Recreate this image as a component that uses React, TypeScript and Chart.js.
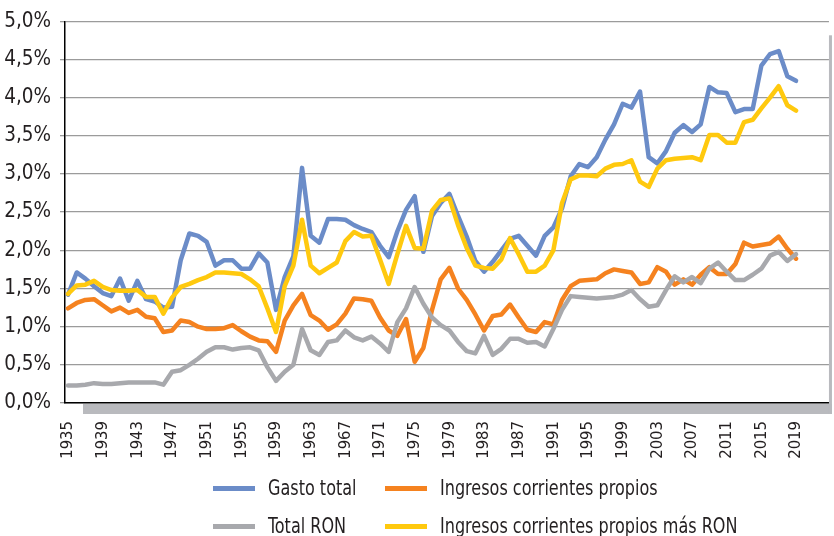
import React, { useEffect, useRef } from 'react';
import { Chart, registerables } from 'chart.js';

Chart.register(...registerables);

const years = [
  1935, 1936, 1937, 1938, 1939, 1940, 1941, 1942, 1943, 1944, 1945, 1946, 1947, 1948, 1949,
  1950, 1951, 1952, 1953, 1954, 1955, 1956, 1957, 1958, 1959, 1960, 1961, 1962, 1963, 1964,
  1965, 1966, 1967, 1968, 1969, 1970, 1971, 1972, 1973, 1974, 1975, 1976, 1977, 1978, 1979,
  1980, 1981, 1982, 1983, 1984, 1985, 1986, 1987, 1988, 1989, 1990, 1991, 1992, 1993, 1994,
  1995, 1996, 1997, 1998, 1999, 2000, 2001, 2002, 2003, 2004, 2005, 2006, 2007, 2008, 2009,
  2010, 2011, 2012, 2013, 2014, 2015, 2016, 2017, 2018, 2019,
];

const xTickLabels = [
  '1935', '1939', '1943', '1947', '1951', '1955', '1959', '1963', '1967', '1971', '1975',
  '1979', '1983', '1987', '1991', '1995', '1999', '2003', '2007', '2011', '2015', '2019',
];

const gastoTotal = [
  1.42, 1.71, 1.63, 1.53, 1.44, 1.40, 1.63, 1.34, 1.60, 1.36, 1.33, 1.25, 1.26, 1.87, 2.22,
  2.19, 2.11, 1.80, 1.87, 1.87, 1.76, 1.76, 1.96, 1.84, 1.22, 1.65, 1.92, 3.08, 2.19, 2.10,
  2.41, 2.41, 2.40, 2.33, 2.28, 2.24, 2.06, 1.91, 2.25, 2.53, 2.71, 1.98, 2.45, 2.62, 2.74,
  2.45, 2.18, 1.86, 1.72, 1.85, 2.00, 2.15, 2.19, 2.06, 1.93, 2.19, 2.30, 2.55, 2.97, 3.13,
  3.09, 3.22, 3.45, 3.65, 3.92, 3.87, 4.08, 3.22, 3.14, 3.30, 3.54, 3.64, 3.55, 3.65, 4.14,
  4.07, 4.06, 3.81, 3.85, 3.85, 4.42, 4.57, 4.61, 4.28, 4.22,
];

const ingresosPropios = [
  1.24, 1.31, 1.35, 1.36, 1.28, 1.20, 1.25, 1.18, 1.22, 1.13, 1.11, 0.93, 0.95, 1.08, 1.06,
  1.00, 0.97, 0.97, 0.98, 1.02, 0.94, 0.87, 0.82, 0.81, 0.67, 1.08, 1.28, 1.43, 1.15, 1.08,
  0.96, 1.03, 1.17, 1.37, 1.36, 1.34, 1.12, 0.95, 0.88, 1.10, 0.54, 0.72, 1.22, 1.62, 1.77,
  1.50, 1.35, 1.16, 0.95, 1.14, 1.16, 1.29, 1.12, 0.96, 0.93, 1.06, 1.03, 1.35, 1.53, 1.60,
  1.61, 1.62, 1.70, 1.75, 1.73, 1.71, 1.56, 1.58, 1.78, 1.72, 1.55, 1.62, 1.55, 1.68, 1.78,
  1.69, 1.69, 1.82, 2.10, 2.05, 2.07, 2.09, 2.18, 2.02, 1.89,
];

const totalRON = [
  0.23, 0.23, 0.24, 0.26, 0.25, 0.25, 0.26, 0.27, 0.27, 0.27, 0.27, 0.24, 0.41, 0.43, 0.50,
  0.58, 0.67, 0.73, 0.73, 0.70, 0.72, 0.73, 0.69, 0.47, 0.29, 0.41, 0.50, 0.97, 0.69, 0.63,
  0.80, 0.82, 0.95, 0.86, 0.82, 0.87, 0.78, 0.67, 1.06, 1.24, 1.52, 1.30, 1.12, 1.02, 0.95,
  0.80, 0.68, 0.65, 0.88, 0.63, 0.71, 0.84, 0.84, 0.79, 0.80, 0.74, 0.97, 1.22, 1.40, 1.39,
  1.38, 1.37, 1.38, 1.39, 1.42, 1.48, 1.36, 1.26, 1.28, 1.48, 1.66, 1.58, 1.65, 1.57, 1.76,
  1.84, 1.72, 1.61, 1.61, 1.68, 1.76, 1.93, 1.98, 1.86, 1.95,
];

const ingresosMasRON = [
  1.43, 1.54, 1.55, 1.60, 1.52, 1.48, 1.47, 1.47, 1.48, 1.39, 1.39, 1.17, 1.38, 1.52, 1.56,
  1.61, 1.65, 1.71, 1.71, 1.70, 1.69, 1.62, 1.53, 1.24, 0.93, 1.53, 1.80, 2.40, 1.80, 1.70,
  1.77, 1.84, 2.12, 2.24, 2.18, 2.19, 1.88, 1.56, 1.95, 2.32, 2.03, 2.02, 2.52, 2.66, 2.68,
  2.33, 2.03, 1.80, 1.77, 1.76, 1.88, 2.16, 1.95, 1.72, 1.72, 1.80, 2.00, 2.62, 2.93, 2.98,
  2.98, 2.97, 3.07, 3.12, 3.13, 3.18, 2.90, 2.83, 3.07, 3.18, 3.20, 3.21, 3.22, 3.18, 3.51,
  3.51, 3.41, 3.41, 3.68, 3.71, 3.86, 4.00, 4.15, 3.90, 3.83,
];

const seriesNames = [
  'Gasto total',
  'Ingresos corrientes propios',
  'Total RON',
  'Ingresos corrientes propios más RON',
];
const seriesColors = ['#6b8cc8', '#f5821f', '#a8a9ad', '#ffc90e'];

const FONT = '"Liberation Sans Narrow", "Arial Narrow", "DejaVu Sans Condensed", sans-serif';
const TEXT = '#231f20';

const shadowPlugin = {
  id: 'shadowFrame',
  afterDraw(chart: any) {
    const { ctx, chartArea } = chart;
    ctx.save();
    ctx.fillStyle = '#b9babe';
    ctx.fillRect(chartArea.left + 18, chartArea.bottom + 1, chartArea.right - chartArea.left - 15, 10);
    ctx.fillRect(chartArea.right, chartArea.top + 14, 3, chartArea.bottom - chartArea.top - 3);
    ctx.restore();
  },
};

export default function App() {
  const ref = useRef<HTMLCanvasElement | null>(null);

  useEffect(() => {
    if (!ref.current) return;
    const mk = (values: number[]) => years.map((y, i) => ({ x: y, y: values[i] }));
    const all = [gastoTotal, ingresosPropios, totalRON, ingresosMasRON];
    const orders = [3, 2, 1, 0];
    const chart = new Chart(ref.current, {
      type: 'line',
      data: {
        datasets: all.map((vals, i) => ({
          label: seriesNames[i],
          data: mk(vals),
          borderColor: seriesColors[i],
          backgroundColor: seriesColors[i],
          borderWidth: 4.5,
          pointRadius: 0,
          tension: 0,
          borderJoinStyle: 'round' as const,
          borderCapStyle: 'round' as const,
          order: orders[i],
        })),
      },
      options: {
        animation: false,
        responsive: false,
        maintainAspectRatio: false,
        layout: { padding: { top: 20, right: 4, bottom: 73, left: 0 } },
        plugins: { legend: { display: false }, tooltip: { enabled: false } },
        scales: {
          x: {
            type: 'linear',
            min: 1934.65,
            max: 2022.8,
            afterBuildTicks: (s: any) => {
              s.ticks = xTickLabels.map((l) => ({ value: Number(l) }));
            },
            afterFit: (s: any) => {
              s.height = 60;
            },
            ticks: {
              autoSkip: false,
              maxRotation: 90,
              minRotation: 90,
              padding: 18,
              color: TEXT,
              font: { family: FONT, size: 16.5 },
              callback: (v: any) => String(v),
            },
            grid: { display: false, drawTicks: false },
            border: { display: true, color: '#000', width: 1.5 },
          },
          y: {
            min: 0,
            max: 5,
            afterFit: (s: any) => {
              s.width = 65;
            },
            ticks: {
              stepSize: 0.5,
              padding: 9,
              color: TEXT,
              font: { family: FONT, size: 20.5 },
              callback: (v: any) => Number(v).toFixed(1).replace('.', ',') + '%',
            },
            grid: { color: '#9b9b9b', lineWidth: 1.3, tickLength: 5 },
            border: { display: true, color: '#000', width: 1.5 },
          },
        },
      },
      plugins: [shadowPlugin],
    });
    return () => chart.destroy();
  }, []);

  const legendPos = [
    { left: 213, top: 488 },
    { left: 385, top: 488 },
    { left: 213, top: 526 },
    { left: 385, top: 526 },
  ];

  return (
    <div style={{ position: 'fixed', left: 0, top: 0, width: 834, height: 536, background: '#fff' }}>
      <canvas ref={ref} width={834} height={536} style={{ position: 'absolute', left: 0, top: 0 }} />
      {seriesNames.map((name, i) => (
        <div
          key={name}
          style={{
            position: 'absolute',
            left: legendPos[i].left,
            top: legendPos[i].top - 15,
            height: 30,
            display: 'flex',
            alignItems: 'center',
            whiteSpace: 'nowrap',
            fontFamily: FONT,
            fontSize: 21,
            color: TEXT,
          }}
        >
          <span style={{ display: 'inline-block', width: 42, height: 5, background: seriesColors[i], marginRight: 13 }} />
          <span style={{ display: 'inline-block', transform: 'scaleX(0.85)', transformOrigin: 'left center' }}>{name}</span>
        </div>
      ))}
    </div>
  );
}
